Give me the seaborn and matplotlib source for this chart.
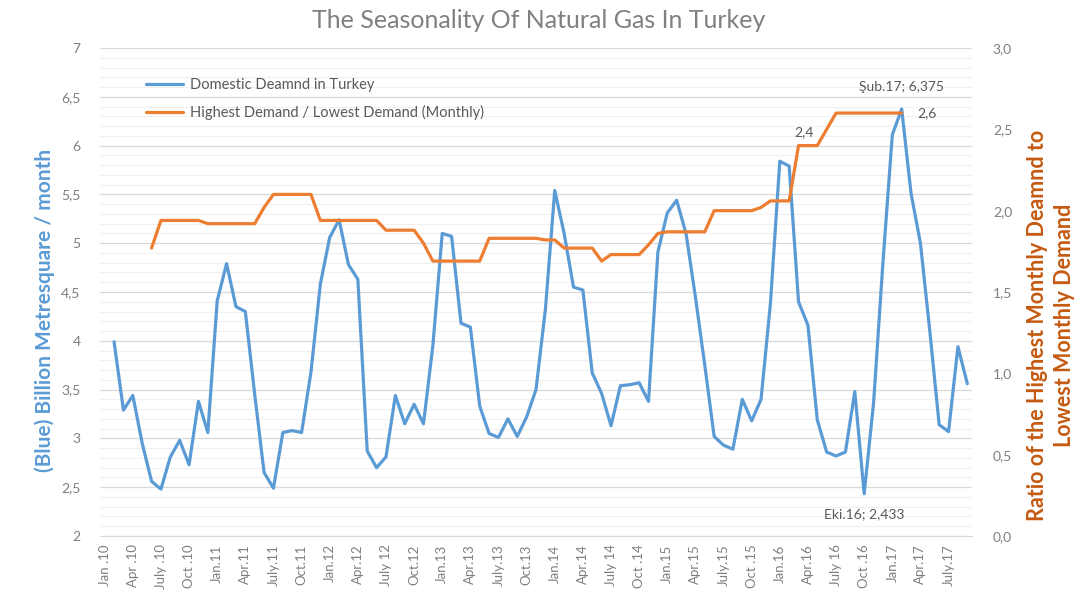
import numpy as np
import pandas as pd
import matplotlib.pyplot as plt
import seaborn as sns
from matplotlib.ticker import FuncFormatter, MultipleLocator
from matplotlib.lines import Line2D

nan = np.nan

# monthly domestic demand, Jan 2010 .. Sep 2017 (first month empty)
demand = [nan, 3.99, 3.29, 3.44, 2.95, 2.56, 2.48, 2.81, 2.98, 2.73, 3.38, 3.06,
          4.41, 4.79, 4.35, 4.30, 3.45, 2.65, 2.49, 3.06, 3.08, 3.06, 3.68, 4.58,
          5.06, 5.24, 4.78, 4.63, 2.87, 2.70, 2.81, 3.44, 3.15, 3.35, 3.15, 3.95,
          5.10, 5.07, 4.18, 4.14, 3.33, 3.05, 3.01, 3.20, 3.02, 3.22, 3.50, 4.32,
          5.54, 5.10, 4.55, 4.52, 3.67, 3.46, 3.13, 3.54, 3.55, 3.57, 3.38, 4.91,
          5.31, 5.44, 5.10, 4.45, 3.75, 3.02, 2.93, 2.89, 3.40, 3.18, 3.40, 4.38,
          5.84, 5.79, 4.40, 4.16, 3.19, 2.86, 2.82, 2.86, 3.48, 2.433, 3.36, 4.80,
          6.11, 6.375, 5.51, 5.00, 4.10, 3.14, 3.07, 3.94, 3.56]

# highest / lowest monthly demand ratio
ratio = [nan, nan, nan, nan, nan, 1.77, 1.94, 1.94, 1.94, 1.94, 1.94, 1.92,
         1.92, 1.92, 1.92, 1.92, 1.92, 2.02, 2.10, 2.10, 2.10, 2.10, 2.10, 1.94,
         1.94, 1.94, 1.94, 1.94, 1.94, 1.94, 1.88, 1.88, 1.88, 1.88, 1.80, 1.69,
         1.69, 1.69, 1.69, 1.69, 1.69, 1.83, 1.83, 1.83, 1.83, 1.83, 1.83, 1.82,
         1.82, 1.77, 1.77, 1.77, 1.77, 1.69, 1.73, 1.73, 1.73, 1.73, 1.79, 1.86,
         1.87, 1.87, 1.87, 1.87, 1.87, 2.00, 2.00, 2.00, 2.00, 2.00, 2.02, 2.06,
         2.06, 2.06, 2.40, 2.40, 2.40, 2.50, 2.60, 2.60, 2.60, 2.60, 2.60, 2.60,
         2.60, 2.60, nan, nan, nan, nan, nan, nan, nan]

tick_labels = ["Jan .10", "Apr .10", "July .10", "Oct .10", "Jan.11", "Apr.11",
               "July.11", "Oct.11", "Jan.12", "Apr.12", "July 12", "Oct.12",
               "Jan.13", "Apr.13", "July.13", "Oct.13", "Jan.14", "Apr.14",
               "July 14", "Oct .14", "Jan.15", "Apr.15", "July.15", "Oct .15",
               "Jan.16", "Apr.16", "July 16", "Oct .16", "Jan.17", "Apr.17",
               "July.17"]

df = pd.DataFrame({"month": np.arange(len(demand)), "demand": demand, "ratio": ratio})

BLUE = "#5b9bd5"
ORANGE = "#ed7d31"
GREY = "#7f7f7f"

sns.set_style("white")
plt.rcParams["font.family"] = ["Lato", "DejaVu Sans"]

fig, ax = plt.subplots(figsize=(10.78, 5.9), dpi=100)
fig.subplots_adjust(left=100/1078, right=972/1078, top=1-48/590, bottom=1-536/590)
ax2 = ax.twinx()

sns.lineplot(data=df, x="month", y="demand", ax=ax, color=BLUE, lw=2.3)
sns.lineplot(data=df, x="month", y="ratio", ax=ax2, color=ORANGE, lw=2.3)

ax.set_xlim(-0.5, len(demand) - 0.5)
ax.set_ylim(2, 7)
ax2.set_ylim(0, 3)

ax.set_xticks(np.arange(0, len(demand), 3))
ax.set_xticklabels(tick_labels, rotation=90, fontsize=9.5, color=GREY)
ax.yaxis.set_major_locator(MultipleLocator(0.5))
ax.yaxis.set_minor_locator(MultipleLocator(0.1))
ax2.yaxis.set_major_locator(MultipleLocator(0.5))
ax.yaxis.set_major_formatter(FuncFormatter(lambda v, p: f"{v:g}".replace(".", ",")))
ax2.yaxis.set_major_formatter(FuncFormatter(lambda v, p: f"{v:.1f}".replace(".", ",")))
ax.tick_params(axis="y", which="major", labelsize=10, colors=GREY, length=0, pad=14)
ax.tick_params(axis="y", which="minor", length=0)
ax2.tick_params(axis="y", labelsize=10, colors=GREY, length=0, pad=15)
ax.tick_params(axis="x", length=0, pad=6)

ax.grid(True, which="major", axis="y", color="#d9d9d9", lw=0.9)
ax.grid(True, which="minor", axis="y", color="#f0f0f0", lw=0.8)
ax.set_axisbelow(True)
for a in (ax, ax2):
    for s in a.spines.values():
        s.set_visible(False)
ax.spines["bottom"].set_visible(True)
ax.spines["bottom"].set_color("#d9d9d9")

ax.set_xlabel("")
ax.set_ylabel("")
ax2.set_ylabel("")

fig.text(45/1078, 1-310/590, "(Blue) Billion Metresquare / month", rotation=90,
         ha="center", va="center", fontsize=15, fontweight="bold", color=BLUE)
fig.text(1051/1078, 1-325/590, "Ratio of the Highest Monthly Deamnd to\nLowest Monthly Demand",
         rotation=90, ha="center", va="center", fontsize=15.5, fontweight="bold",
         color="#c55a11", linespacing=1.3)
fig.text(0.5, 1-20/590, "The Seasonality Of Natural Gas In Turkey", ha="center",
         va="center", fontsize=18, color="#808080")

handles = [Line2D([], [], color=BLUE, lw=2.3), Line2D([], [], color=ORANGE, lw=2.3)]
fig.legend(handles, ["Domestic Deamnd in Turkey", "Highest Demand / Lowest Demand (Monthly)"],
           loc="upper left", bbox_to_anchor=(133/1078, 1-65/590), frameon=False,
           fontsize=10.5, labelcolor="#595959", handlelength=2.5, handletextpad=0.5,
           labelspacing=0.9)

lab = dict(fontsize=10, color="#595959", ha="center", va="center", textcoords="offset points")
ax.annotate("Şub.17; 6,375", xy=(85, 6.375), xytext=(0, 16), **lab)
ax.annotate("Eki.16; 2,433", xy=(81, 2.433), xytext=(0, -15), **lab)
ax2.annotate("2,6", xy=(85, 2.6), xytext=(18, 0), **lab)
ax2.annotate("2,4", xy=(74, 2.4), xytext=(4, 10), **lab)

fig.savefig("out.png", dpi=100)
